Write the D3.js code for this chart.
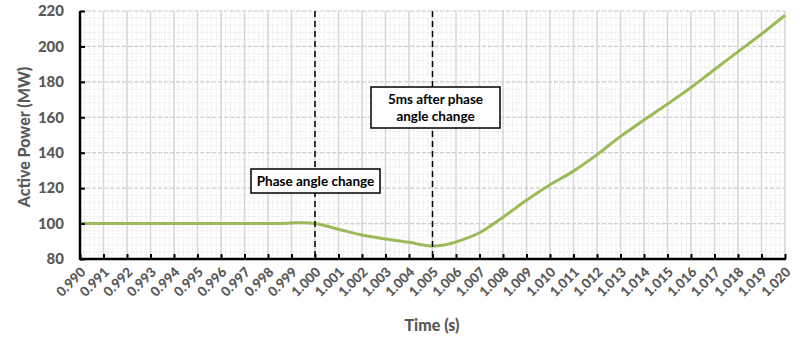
<!DOCTYPE html>
<html><head><meta charset="utf-8">
<script src="https://cdn.jsdelivr.net/npm/d3@7/dist/d3.min.js"></script>
<style>body{margin:0;background:#fff}svg{display:block}</style>
</head><body>
<svg id="c" width="798" height="337"></svg>
<script>
const times = [0.990,0.991,0.992,0.993,0.994,0.995,0.996,0.997,0.998,0.999,0.9995,1.000,1.001,1.002,1.003,1.004,1.005,1.0055,1.006,1.007,1.008,1.009,1.010,1.011,1.012,1.013,1.014,1.015,1.016,1.017,1.018,1.019,1.020];
const power = [100,100,100,100,100,100,100,100,100,100.3,100.5,100,96.8,93.5,91.3,89.4,87.3,87.9,89.6,94.8,103.6,113.2,121.9,129.6,138.9,149.2,158.5,167.5,176.8,187,197,207,217.6];
const xTicks = d3.range(0,31).map(i => +(0.990 + i*0.001).toFixed(3));
const yTicks = [80,100,120,140,160,180,200,220];
const markers = [1.000, 1.005];
const notes = [
  {x:1.000, lines:["Phase angle change"]},
  {x:1.005, lines:["5ms after phase","angle change"]}
];

const svg = d3.select("#c");
const L=80, R=785, T=11, B=259;
const x = d3.scaleLinear().domain([0.990,1.020]).range([L,R]);
const y = d3.scaleLinear().domain([80,220]).range([B,T]);
const gray="#595959", font="Lato, 'Open Sans', sans-serif";

const g = svg.append("g");
// minor grid
const minorX = d3.range(0,151).map(i=>0.990+i*0.0002);
const minorY = d3.range(0,36).map(i=>80+i*4);
g.selectAll(".mx").data(minorX).join("line").attr("x1",d=>x(d)).attr("x2",d=>x(d)).attr("y1",T).attr("y2",B)
  .attr("stroke","#ececec").attr("stroke-width",1).attr("stroke-dasharray","2,1");
g.selectAll(".my").data(minorY).join("line").attr("y1",d=>y(d)).attr("y2",d=>y(d)).attr("x1",L).attr("x2",R)
  .attr("stroke","#ececec").attr("stroke-width",1).attr("stroke-dasharray","2,1");
// major grid
g.selectAll(".gx").data(xTicks).join("line").attr("x1",d=>x(d)).attr("x2",d=>x(d)).attr("y1",T).attr("y2",B)
  .attr("stroke","#d6d6d6").attr("stroke-width",1.5);
g.selectAll(".gy").data(yTicks).join("line").attr("y1",d=>y(d)).attr("y2",d=>y(d)).attr("x1",L).attr("x2",R)
  .attr("stroke","#d0d0d0").attr("stroke-width",1.2).attr("stroke-dasharray","4,2");

// line
const line = d3.line().x((d,i)=>x(times[i])).y(d=>y(d)).curve(d3.curveCatmullRom.alpha(0.5));
svg.append("path").datum(power).attr("d",line).attr("fill","none").attr("stroke","#9BBB59").attr("stroke-width",3);

// dashed markers
svg.selectAll(".mk").data(markers).join("line").attr("x1",d=>x(d)).attr("x2",d=>x(d)).attr("y1",T).attr("y2",B)
  .attr("stroke","#000").attr("stroke-width",1.5).attr("stroke-dasharray","6,4");

// axes
const xAxis = d3.axisBottom(x).tickValues(xTicks).tickSize(-5).tickFormat(d3.format(".3f"));
const gx = svg.append("g").attr("transform",`translate(0,${B})`).call(xAxis);
gx.select(".domain").attr("stroke","#000").attr("stroke-width",2.5).attr("d",`M${L},0H${R+1}`);
gx.selectAll(".tick line").attr("stroke","#000").attr("stroke-width",2);
gx.selectAll(".tick text").attr("fill",gray).attr("font-family",font).attr("font-weight","900").attr("font-size","13.5px")
  .attr("text-anchor","end").attr("dy",null).attr("y",0).attr("transform","translate(6,14) rotate(-45)");

const yAxis = d3.axisLeft(y).tickValues(yTicks).tickSize(-5).tickPadding(16);
const gy = svg.append("g").attr("transform",`translate(${L},0)`).call(yAxis);
gy.select(".domain").attr("stroke","#000").attr("stroke-width",2.5).attr("d",`M0,${T}V${B+1}`);
gy.selectAll(".tick line").attr("stroke","#000").attr("stroke-width",2);
gy.selectAll(".tick text").attr("fill",gray).attr("font-family",font).attr("font-weight","900").attr("font-size","15px");

// titles
svg.append("text").attr("x",432).attr("y",331).attr("text-anchor","middle").attr("fill",gray)
  .attr("font-family",font).attr("font-weight","900").attr("font-size","16px").text("Time (s)");
svg.append("text").attr("transform","translate(30,137) rotate(-90)").attr("text-anchor","middle").attr("fill",gray)
  .attr("font-family",font).attr("font-weight","900").attr("font-size","16px").text("Active Power (MW)");

// annotation boxes
const boxes = [{x0:251,x1:380,y0:169,y1:193},{x0:371,x1:500,y0:87,y1:128}];
notes.forEach((n,i)=>{
  const b=boxes[i];
  svg.append("rect").attr("x",b.x0).attr("y",b.y0).attr("width",b.x1-b.x0).attr("height",b.y1-b.y0)
    .attr("fill","#fff").attr("stroke","#000").attr("stroke-width",1.5);
  const cx=(b.x0+b.x1)/2, cy=(b.y0+b.y1)/2;
  const lh=17, start=cy-(n.lines.length-1)*lh/2;
  n.lines.forEach((t,j)=>{
    svg.append("text").attr("x",cx).attr("y",start+j*lh).attr("dy","0.35em").attr("text-anchor","middle")
      .attr("font-family",font).attr("font-weight","bold").attr("font-size","13.5px").attr("fill","#000").text(t);
  });
});
</script>
</body></html>
